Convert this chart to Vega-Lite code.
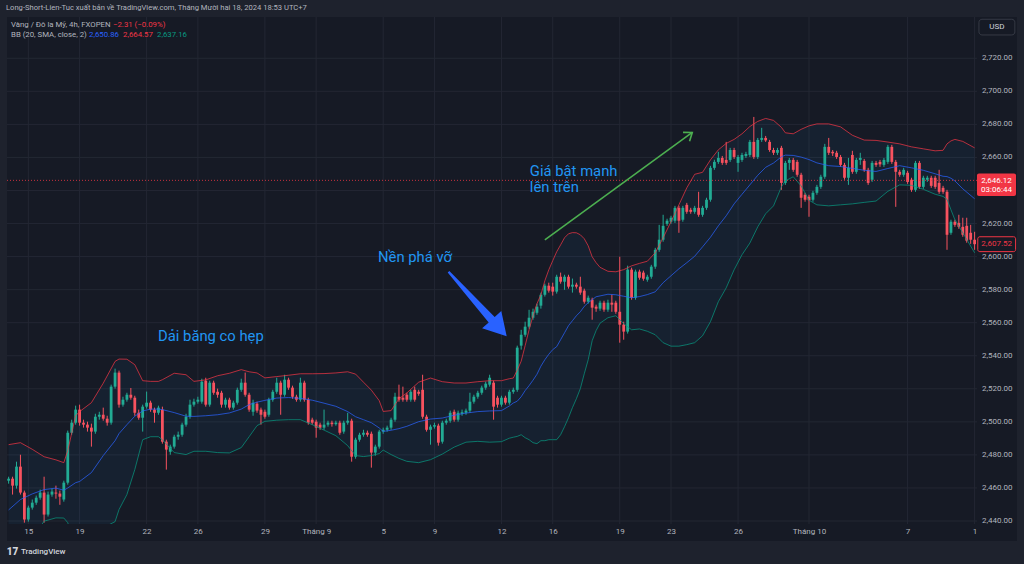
{
"$schema":"https://vega.github.io/schema/vega-lite/v6.json",
"width":1010,"height":507,
"autosize":{"type":"none"},
"padding":{"left":7,"top":17,"right":7,"bottom":40},
"background":"#1e222d",
"view":{"fill":"#161a25","stroke":null},
"title":{"text":"Long-Short-Lien-Tuc xuất bản về TradingView.com, Tháng Mười hai 18, 2024 18:53 UTC+7","anchor":"start","frame":"group","offset":5,"fontSize":7.6,"fontWeight":"normal","color":"#b2b5be","font":"Roboto","dx":-1},
"config":{"text":{"font":"Roboto"},"scale":{"continuousPadding":0}},
"datasets":{
"c":[
{"i":0,"o":2464.4,"h":2466.8,"l":2462.6,"c":2465.6},
{"i":1,"o":2465.6,"h":2466.8,"l":2456.0,"c":2461.4},
{"i":2,"o":2461.4,"h":2475.9,"l":2459.6,"c":2472.9},
{"i":3,"o":2472.9,"h":2480.1,"l":2456.0,"c":2457.2},
{"i":4,"o":2457.2,"h":2458.4,"l":2439.0,"c":2440.9},
{"i":5,"o":2440.9,"h":2449.3,"l":2439.6,"c":2448.1},
{"i":6,"o":2448.1,"h":2453.0,"l":2446.9,"c":2451.1},
{"i":7,"o":2451.1,"h":2455.4,"l":2449.8,"c":2454.1},
{"i":8,"o":2454.1,"h":2459.0,"l":2452.9,"c":2457.2},
{"i":9,"o":2457.2,"h":2466.8,"l":2439.0,"c":2443.9},
{"i":10,"o":2443.9,"h":2457.8,"l":2442.7,"c":2456.0},
{"i":11,"o":2456.0,"h":2459.6,"l":2454.7,"c":2457.8},
{"i":12,"o":2457.2,"h":2461.4,"l":2453.5,"c":2456.6},
{"i":13,"o":2456.6,"h":2458.4,"l":2449.8,"c":2454.7},
{"i":14,"o":2453.0,"h":2464.4,"l":2451.7,"c":2463.2},
{"i":15,"o":2463.2,"h":2494.7,"l":2462.0,"c":2493.4},
{"i":16,"o":2493.4,"h":2501.3,"l":2492.2,"c":2499.5},
{"i":17,"o":2499.5,"h":2509.8,"l":2498.3,"c":2507.4},
{"i":18,"o":2507.4,"h":2510.4,"l":2497.7,"c":2499.5},
{"i":19,"o":2499.5,"h":2501.3,"l":2496.5,"c":2498.3},
{"i":20,"o":2498.3,"h":2500.1,"l":2494.1,"c":2496.5},
{"i":21,"o":2496.5,"h":2498.9,"l":2485.0,"c":2494.1},
{"i":22,"o":2494.1,"h":2504.9,"l":2492.8,"c":2503.1},
{"i":23,"o":2503.1,"h":2506.1,"l":2501.3,"c":2504.3},
{"i":24,"o":2504.3,"h":2508.6,"l":2500.7,"c":2501.9},
{"i":25,"o":2501.9,"h":2503.7,"l":2497.7,"c":2499.5},
{"i":26,"o":2499.5,"h":2522.5,"l":2498.3,"c":2521.3},
{"i":27,"o":2521.3,"h":2532.2,"l":2520.1,"c":2529.8},
{"i":28,"o":2529.8,"h":2531.0,"l":2508.6,"c":2510.4},
{"i":29,"o":2510.4,"h":2515.2,"l":2509.2,"c":2513.4},
{"i":30,"o":2513.4,"h":2517.6,"l":2512.2,"c":2516.4},
{"i":31,"o":2516.4,"h":2520.5,"l":2513.4,"c":2514.6},
{"i":32,"o":2514.6,"h":2515.8,"l":2503.7,"c":2505.5},
{"i":33,"o":2505.5,"h":2507.4,"l":2501.3,"c":2502.5},
{"i":34,"o":2502.5,"h":2510.4,"l":2494.1,"c":2509.2},
{"i":35,"o":2509.2,"h":2518.3,"l":2508.0,"c":2511.6},
{"i":36,"o":2511.6,"h":2512.8,"l":2506.1,"c":2507.4},
{"i":37,"o":2507.4,"h":2508.6,"l":2499.5,"c":2505.5},
{"i":38,"o":2505.5,"h":2509.8,"l":2504.3,"c":2508.6},
{"i":39,"o":2507.4,"h":2509.2,"l":2486.8,"c":2488.0},
{"i":40,"o":2488.0,"h":2489.2,"l":2471.1,"c":2483.2},
{"i":41,"o":2481.9,"h":2486.2,"l":2480.1,"c":2485.0},
{"i":42,"o":2485.0,"h":2492.2,"l":2483.8,"c":2491.0},
{"i":43,"o":2491.0,"h":2494.1,"l":2489.2,"c":2492.2},
{"i":44,"o":2492.2,"h":2499.5,"l":2491.0,"c":2498.3},
{"i":45,"o":2498.3,"h":2504.9,"l":2497.1,"c":2503.1},
{"i":46,"o":2503.1,"h":2513.4,"l":2501.9,"c":2510.4},
{"i":47,"o":2510.4,"h":2514.0,"l":2509.2,"c":2512.2},
{"i":48,"o":2512.2,"h":2515.2,"l":2511.0,"c":2513.4},
{"i":49,"o":2512.2,"h":2526.1,"l":2511.0,"c":2524.3},
{"i":50,"o":2524.9,"h":2526.7,"l":2509.2,"c":2510.4},
{"i":51,"o":2510.4,"h":2524.9,"l":2509.2,"c":2523.7},
{"i":52,"o":2523.7,"h":2524.9,"l":2516.4,"c":2517.6},
{"i":53,"o":2518.2,"h":2520.1,"l":2514.6,"c":2516.4},
{"i":54,"o":2517.6,"h":2518.8,"l":2508.6,"c":2510.4},
{"i":55,"o":2510.4,"h":2514.6,"l":2508.6,"c":2513.4},
{"i":56,"o":2513.4,"h":2514.6,"l":2507.4,"c":2508.6},
{"i":57,"o":2508.6,"h":2512.8,"l":2507.4,"c":2511.6},
{"i":58,"o":2511.6,"h":2520.7,"l":2510.4,"c":2519.4},
{"i":59,"o":2519.4,"h":2526.1,"l":2518.2,"c":2523.7},
{"i":60,"o":2523.7,"h":2529.8,"l":2515.2,"c":2516.4},
{"i":61,"o":2516.4,"h":2517.6,"l":2506.1,"c":2507.4},
{"i":62,"o":2506.1,"h":2513.4,"l":2503.7,"c":2511.6},
{"i":63,"o":2511.0,"h":2512.2,"l":2505.5,"c":2506.8},
{"i":64,"o":2507.4,"h":2508.6,"l":2498.3,"c":2504.3},
{"i":65,"o":2506.1,"h":2507.4,"l":2501.9,"c":2503.1},
{"i":66,"o":2504.3,"h":2514.6,"l":2503.1,"c":2513.4},
{"i":67,"o":2513.4,"h":2519.4,"l":2512.2,"c":2518.2},
{"i":68,"o":2518.2,"h":2526.7,"l":2517.0,"c":2523.7},
{"i":69,"o":2523.7,"h":2524.9,"l":2504.3,"c":2516.4},
{"i":70,"o":2516.4,"h":2528.5,"l":2515.2,"c":2525.5},
{"i":71,"o":2525.5,"h":2526.7,"l":2519.4,"c":2520.7},
{"i":72,"o":2520.7,"h":2521.9,"l":2514.0,"c":2515.2},
{"i":73,"o":2515.2,"h":2516.4,"l":2512.2,"c":2513.4},
{"i":74,"o":2513.4,"h":2526.7,"l":2512.2,"c":2523.7},
{"i":75,"o":2523.7,"h":2524.9,"l":2512.2,"c":2513.4},
{"i":76,"o":2513.4,"h":2514.6,"l":2498.3,"c":2499.5},
{"i":77,"o":2501.3,"h":2502.5,"l":2498.3,"c":2499.5},
{"i":78,"o":2500.1,"h":2501.3,"l":2490.4,"c":2496.5},
{"i":79,"o":2498.3,"h":2499.5,"l":2495.2,"c":2496.5},
{"i":80,"o":2496.5,"h":2507.4,"l":2495.2,"c":2498.3},
{"i":81,"o":2498.3,"h":2500.7,"l":2497.1,"c":2499.5},
{"i":82,"o":2499.5,"h":2500.7,"l":2497.1,"c":2498.6},
{"i":83,"o":2498.6,"h":2500.7,"l":2497.7,"c":2499.5},
{"i":84,"o":2499.5,"h":2500.7,"l":2492.2,"c":2493.4},
{"i":85,"o":2494.1,"h":2500.7,"l":2492.8,"c":2499.5},
{"i":86,"o":2499.5,"h":2505.5,"l":2498.3,"c":2500.7},
{"i":87,"o":2500.7,"h":2501.9,"l":2475.9,"c":2478.9},
{"i":88,"o":2478.9,"h":2490.4,"l":2477.7,"c":2489.2},
{"i":89,"o":2489.2,"h":2493.4,"l":2488.0,"c":2492.2},
{"i":90,"o":2492.2,"h":2495.2,"l":2491.0,"c":2493.4},
{"i":91,"o":2493.4,"h":2494.7,"l":2491.0,"c":2492.2},
{"i":92,"o":2492.8,"h":2494.1,"l":2472.3,"c":2481.4},
{"i":93,"o":2481.4,"h":2486.2,"l":2479.5,"c":2485.0},
{"i":94,"o":2485.0,"h":2495.2,"l":2483.8,"c":2494.1},
{"i":95,"o":2494.1,"h":2496.5,"l":2492.8,"c":2495.2},
{"i":96,"o":2495.2,"h":2497.7,"l":2494.1,"c":2496.5},
{"i":97,"o":2496.5,"h":2502.5,"l":2495.2,"c":2501.3},
{"i":98,"o":2501.3,"h":2517.6,"l":2500.1,"c":2515.2},
{"i":99,"o":2515.2,"h":2522.5,"l":2512.2,"c":2513.4},
{"i":100,"o":2514.6,"h":2521.3,"l":2512.2,"c":2513.4},
{"i":101,"o":2516.4,"h":2517.6,"l":2512.2,"c":2513.4},
{"i":102,"o":2513.4,"h":2519.4,"l":2512.2,"c":2518.2},
{"i":103,"o":2519.4,"h":2521.3,"l":2512.2,"c":2513.4},
{"i":104,"o":2518.2,"h":2519.4,"l":2515.8,"c":2517.0},
{"i":105,"o":2519.4,"h":2528.5,"l":2501.9,"c":2503.1},
{"i":106,"o":2503.1,"h":2504.3,"l":2494.1,"c":2495.2},
{"i":107,"o":2495.2,"h":2498.3,"l":2486.2,"c":2497.1},
{"i":108,"o":2497.1,"h":2499.5,"l":2495.9,"c":2498.0},
{"i":109,"o":2497.7,"h":2498.9,"l":2485.6,"c":2487.4},
{"i":110,"o":2488.0,"h":2500.7,"l":2486.8,"c":2499.5},
{"i":111,"o":2499.5,"h":2501.9,"l":2498.3,"c":2500.7},
{"i":112,"o":2500.7,"h":2506.8,"l":2499.5,"c":2505.5},
{"i":113,"o":2506.1,"h":2507.4,"l":2500.1,"c":2501.3},
{"i":114,"o":2501.3,"h":2506.8,"l":2500.1,"c":2505.5},
{"i":115,"o":2504.9,"h":2507.4,"l":2503.7,"c":2505.8},
{"i":116,"o":2505.5,"h":2508.0,"l":2504.3,"c":2506.8},
{"i":117,"o":2506.8,"h":2517.6,"l":2505.5,"c":2512.2},
{"i":118,"o":2512.2,"h":2516.4,"l":2511.0,"c":2515.2},
{"i":119,"o":2515.2,"h":2518.8,"l":2514.0,"c":2517.6},
{"i":120,"o":2517.6,"h":2521.9,"l":2516.4,"c":2520.7},
{"i":121,"o":2520.7,"h":2524.3,"l":2519.4,"c":2523.1},
{"i":122,"o":2522.5,"h":2528.5,"l":2521.3,"c":2526.7},
{"i":123,"o":2523.7,"h":2524.9,"l":2501.3,"c":2509.2},
{"i":124,"o":2514.6,"h":2515.8,"l":2508.6,"c":2510.4},
{"i":125,"o":2510.4,"h":2515.8,"l":2509.2,"c":2514.6},
{"i":126,"o":2514.6,"h":2515.8,"l":2510.4,"c":2511.6},
{"i":127,"o":2511.6,"h":2519.4,"l":2510.4,"c":2518.2},
{"i":128,"o":2518.2,"h":2520.7,"l":2517.0,"c":2519.4},
{"i":129,"o":2519.4,"h":2546.1,"l":2518.2,"c":2544.9},
{"i":130,"o":2546.1,"h":2555.7,"l":2543.7,"c":2552.7},
{"i":131,"o":2552.7,"h":2560.6,"l":2551.5,"c":2557.6},
{"i":132,"o":2557.6,"h":2567.8,"l":2556.4,"c":2563.0},
{"i":133,"o":2563.0,"h":2568.5,"l":2561.8,"c":2566.6},
{"i":134,"o":2566.0,"h":2571.5,"l":2564.8,"c":2569.7},
{"i":135,"o":2570.3,"h":2578.2,"l":2568.5,"c":2576.9},
{"i":136,"o":2576.9,"h":2583.6,"l":2575.8,"c":2582.4},
{"i":137,"o":2582.4,"h":2584.2,"l":2578.2,"c":2579.4},
{"i":138,"o":2581.8,"h":2584.2,"l":2576.4,"c":2578.8},
{"i":139,"o":2578.8,"h":2589.0,"l":2577.6,"c":2587.8},
{"i":140,"o":2587.8,"h":2590.3,"l":2583.6,"c":2584.8},
{"i":141,"o":2584.8,"h":2589.0,"l":2579.9,"c":2587.8},
{"i":142,"o":2587.8,"h":2589.0,"l":2580.6,"c":2581.8},
{"i":143,"o":2581.8,"h":2586.7,"l":2578.2,"c":2583.0},
{"i":144,"o":2583.0,"h":2584.2,"l":2580.6,"c":2581.8},
{"i":145,"o":2581.8,"h":2587.8,"l":2576.9,"c":2578.2},
{"i":146,"o":2579.4,"h":2580.6,"l":2571.5,"c":2572.7},
{"i":147,"o":2572.7,"h":2576.4,"l":2571.5,"c":2575.1},
{"i":148,"o":2573.9,"h":2575.1,"l":2561.8,"c":2569.1},
{"i":149,"o":2569.7,"h":2570.9,"l":2566.6,"c":2568.5},
{"i":150,"o":2568.5,"h":2573.3,"l":2567.2,"c":2572.1},
{"i":151,"o":2572.1,"h":2573.3,"l":2566.6,"c":2567.9},
{"i":152,"o":2567.9,"h":2573.9,"l":2566.6,"c":2572.1},
{"i":153,"o":2572.1,"h":2576.9,"l":2566.6,"c":2570.9},
{"i":154,"o":2572.1,"h":2573.3,"l":2565.4,"c":2566.6},
{"i":155,"o":2566.6,"h":2599.9,"l":2547.9,"c":2558.8},
{"i":156,"o":2558.8,"h":2560.6,"l":2549.7,"c":2554.6},
{"i":157,"o":2554.6,"h":2594.5,"l":2553.4,"c":2592.1},
{"i":158,"o":2592.1,"h":2593.3,"l":2573.9,"c":2575.1},
{"i":159,"o":2575.1,"h":2592.1,"l":2573.9,"c":2590.9},
{"i":160,"o":2590.9,"h":2592.1,"l":2586.0,"c":2587.2},
{"i":161,"o":2590.3,"h":2591.5,"l":2585.4,"c":2586.6},
{"i":162,"o":2586.0,"h":2589.0,"l":2584.8,"c":2587.8},
{"i":163,"o":2587.8,"h":2595.0,"l":2586.6,"c":2593.9},
{"i":164,"o":2593.9,"h":2605.3,"l":2592.6,"c":2604.1},
{"i":165,"o":2604.1,"h":2619.2,"l":2602.9,"c":2610.2},
{"i":166,"o":2610.2,"h":2625.3,"l":2609.0,"c":2618.6},
{"i":167,"o":2619.8,"h":2622.9,"l":2618.6,"c":2621.7},
{"i":168,"o":2621.1,"h":2624.7,"l":2619.8,"c":2623.5},
{"i":169,"o":2621.7,"h":2630.7,"l":2620.4,"c":2629.5},
{"i":170,"o":2629.5,"h":2630.7,"l":2614.4,"c":2621.7},
{"i":171,"o":2622.3,"h":2630.7,"l":2621.1,"c":2629.5},
{"i":172,"o":2631.3,"h":2632.5,"l":2625.9,"c":2627.1},
{"i":173,"o":2628.3,"h":2629.5,"l":2625.9,"c":2627.1},
{"i":174,"o":2627.1,"h":2630.7,"l":2625.9,"c":2629.5},
{"i":175,"o":2629.5,"h":2639.2,"l":2624.1,"c":2625.3},
{"i":176,"o":2625.3,"h":2630.7,"l":2624.1,"c":2629.5},
{"i":177,"o":2629.5,"h":2635.6,"l":2628.3,"c":2634.4},
{"i":178,"o":2634.4,"h":2654.9,"l":2633.2,"c":2653.7},
{"i":179,"o":2653.7,"h":2658.6,"l":2652.5,"c":2657.3},
{"i":180,"o":2657.3,"h":2663.4,"l":2656.1,"c":2659.7},
{"i":181,"o":2659.7,"h":2660.9,"l":2655.5,"c":2656.7},
{"i":182,"o":2658.5,"h":2669.4,"l":2655.5,"c":2656.7},
{"i":183,"o":2658.5,"h":2665.8,"l":2657.3,"c":2664.5},
{"i":184,"o":2664.5,"h":2665.8,"l":2659.1,"c":2660.3},
{"i":185,"o":2656.7,"h":2661.5,"l":2651.3,"c":2660.3},
{"i":186,"o":2658.5,"h":2662.8,"l":2657.3,"c":2661.5},
{"i":187,"o":2660.9,"h":2663.4,"l":2659.7,"c":2662.1},
{"i":188,"o":2661.5,"h":2670.6,"l":2660.3,"c":2669.4},
{"i":189,"o":2669.4,"h":2684.5,"l":2659.1,"c":2660.3},
{"i":190,"o":2660.3,"h":2671.8,"l":2659.1,"c":2670.6},
{"i":191,"o":2670.6,"h":2677.9,"l":2669.4,"c":2671.8},
{"i":192,"o":2671.8,"h":2673.0,"l":2669.4,"c":2670.3},
{"i":193,"o":2669.4,"h":2670.6,"l":2663.4,"c":2664.5},
{"i":194,"o":2664.5,"h":2665.8,"l":2661.5,"c":2662.8},
{"i":195,"o":2662.8,"h":2665.8,"l":2661.5,"c":2664.5},
{"i":196,"o":2665.8,"h":2667.0,"l":2640.4,"c":2644.6},
{"i":197,"o":2644.6,"h":2657.9,"l":2643.4,"c":2656.7},
{"i":198,"o":2656.7,"h":2659.7,"l":2652.5,"c":2658.5},
{"i":199,"o":2658.5,"h":2659.7,"l":2651.3,"c":2652.5},
{"i":200,"o":2657.3,"h":2658.5,"l":2648.3,"c":2649.5},
{"i":201,"o":2649.5,"h":2650.7,"l":2629.5,"c":2635.6},
{"i":202,"o":2637.4,"h":2638.6,"l":2633.2,"c":2634.4},
{"i":203,"o":2636.2,"h":2637.4,"l":2624.1,"c":2634.1},
{"i":204,"o":2634.4,"h":2639.8,"l":2633.2,"c":2638.6},
{"i":205,"o":2638.6,"h":2643.4,"l":2637.4,"c":2642.2},
{"i":206,"o":2642.2,"h":2649.5,"l":2641.0,"c":2648.3},
{"i":207,"o":2648.3,"h":2668.2,"l":2647.1,"c":2666.4},
{"i":208,"o":2666.4,"h":2671.8,"l":2661.5,"c":2662.8},
{"i":209,"o":2663.4,"h":2664.5,"l":2660.9,"c":2662.5},
{"i":210,"o":2662.8,"h":2664.0,"l":2659.1,"c":2660.3},
{"i":211,"o":2660.3,"h":2661.5,"l":2654.3,"c":2655.5},
{"i":212,"o":2655.5,"h":2656.7,"l":2646.5,"c":2647.7},
{"i":213,"o":2647.7,"h":2659.7,"l":2643.4,"c":2653.7},
{"i":214,"o":2661.5,"h":2664.0,"l":2650.1,"c":2651.3},
{"i":215,"o":2651.3,"h":2659.7,"l":2650.1,"c":2658.5},
{"i":216,"o":2658.5,"h":2662.8,"l":2655.5,"c":2659.7},
{"i":217,"o":2657.9,"h":2659.1,"l":2651.3,"c":2652.5},
{"i":218,"o":2652.5,"h":2653.7,"l":2643.4,"c":2644.6},
{"i":219,"o":2646.5,"h":2657.9,"l":2645.2,"c":2656.7},
{"i":220,"o":2656.7,"h":2657.9,"l":2654.3,"c":2655.5},
{"i":221,"o":2657.3,"h":2658.5,"l":2654.3,"c":2655.8},
{"i":222,"o":2655.5,"h":2659.7,"l":2654.3,"c":2658.5},
{"i":223,"o":2657.3,"h":2667.6,"l":2656.1,"c":2666.4},
{"i":224,"o":2666.4,"h":2667.6,"l":2656.1,"c":2657.3},
{"i":225,"o":2657.3,"h":2658.5,"l":2630.1,"c":2651.3},
{"i":226,"o":2651.3,"h":2652.5,"l":2648.3,"c":2649.5},
{"i":227,"o":2649.5,"h":2653.7,"l":2648.3,"c":2652.5},
{"i":228,"o":2650.7,"h":2651.9,"l":2644.0,"c":2645.2},
{"i":229,"o":2646.5,"h":2647.7,"l":2639.2,"c":2640.4},
{"i":230,"o":2640.4,"h":2657.9,"l":2639.2,"c":2656.7},
{"i":231,"o":2656.7,"h":2657.9,"l":2641.0,"c":2642.2},
{"i":232,"o":2642.2,"h":2648.9,"l":2641.0,"c":2647.7},
{"i":233,"o":2646.5,"h":2648.9,"l":2645.2,"c":2647.7},
{"i":234,"o":2647.7,"h":2648.9,"l":2641.6,"c":2642.8},
{"i":235,"o":2647.7,"h":2648.9,"l":2641.0,"c":2642.2},
{"i":236,"o":2644.6,"h":2652.5,"l":2638.0,"c":2639.2},
{"i":237,"o":2641.6,"h":2642.8,"l":2638.0,"c":2639.2},
{"i":238,"o":2639.2,"h":2640.4,"l":2604.1,"c":2613.2},
{"i":239,"o":2614.4,"h":2622.3,"l":2613.2,"c":2621.1},
{"i":240,"o":2621.1,"h":2622.3,"l":2618.0,"c":2619.2},
{"i":241,"o":2620.4,"h":2625.3,"l":2616.8,"c":2618.0},
{"i":242,"o":2618.0,"h":2623.5,"l":2612.0,"c":2613.2},
{"i":243,"o":2618.6,"h":2623.5,"l":2608.4,"c":2609.6},
{"i":244,"o":2614.4,"h":2619.2,"l":2607.7,"c":2610.2},
{"i":245,"o":2610.2,"h":2615.0,"l":2604.1,"c":2607.5}
],
"bb":[
{"i":0,"u":2486.2,"m":2446.7,"lo":2407.2},
{"i":3,"u":2487.4,"m":2453.0,"lo":2418.5},
{"i":6,"u":2483.4,"m":2456.4,"lo":2429.4},
{"i":9,"u":2478.9,"m":2459.0,"lo":2439.9},
{"i":12,"u":2477.0,"m":2459.9,"lo":2441.9},
{"i":14,"u":2475.3,"m":2458.6,"lo":2441.8},
{"i":15,"u":2482.6,"m":2460.0,"lo":2439.0},
{"i":17,"u":2503.7,"m":2463.2,"lo":2422.7},
{"i":18,"u":2506.2,"m":2463.9,"lo":2421.5},
{"i":21,"u":2511.6,"m":2469.3,"lo":2426.9},
{"i":24,"u":2523.4,"m":2479.6,"lo":2436.0},
{"i":27,"u":2536.6,"m":2488.6,"lo":2439.6},
{"i":28,"u":2538.0,"m":2492.9,"lo":2446.9},
{"i":30,"u":2537.9,"m":2498.3,"lo":2456.0},
{"i":32,"u":2534.6,"m":2503.4,"lo":2471.1},
{"i":34,"u":2524.9,"m":2506.6,"lo":2489.2},
{"i":36,"u":2524.5,"m":2507.7,"lo":2491.0},
{"i":38,"u":2524.5,"m":2507.7,"lo":2491.0},
{"i":39,"u":2525.5,"m":2507.4,"lo":2489.2},
{"i":42,"u":2529.4,"m":2505.6,"lo":2481.4},
{"i":45,"u":2528.5,"m":2503.4,"lo":2480.2},
{"i":47,"u":2524.5,"m":2503.3,"lo":2482.2},
{"i":50,"u":2525.4,"m":2503.7,"lo":2482.2},
{"i":53,"u":2527.9,"m":2504.3,"lo":2481.4},
{"i":56,"u":2529.4,"m":2505.4,"lo":2481.2},
{"i":59,"u":2531.6,"m":2507.7,"lo":2484.4},
{"i":61,"u":2530.3,"m":2510.4,"lo":2491.0},
{"i":63,"u":2529.6,"m":2511.9,"lo":2497.7},
{"i":65,"u":2526.6,"m":2513.0,"lo":2500.3},
{"i":68,"u":2527.4,"m":2514.4,"lo":2501.0},
{"i":71,"u":2528.2,"m":2514.7,"lo":2501.3},
{"i":74,"u":2529.1,"m":2514.2,"lo":2501.3},
{"i":77,"u":2529.1,"m":2513.1,"lo":2498.3},
{"i":80,"u":2529.2,"m":2511.3,"lo":2495.0},
{"i":83,"u":2529.6,"m":2509.4,"lo":2491.6},
{"i":86,"u":2530.3,"m":2506.2,"lo":2485.6},
{"i":88,"u":2528.9,"m":2503.1,"lo":2479.6},
{"i":90,"u":2524.0,"m":2501.3,"lo":2479.0},
{"i":92,"u":2519.2,"m":2499.5,"lo":2479.6},
{"i":94,"u":2512.8,"m":2496.3,"lo":2480.8},
{"i":95,"u":2506.3,"m":2494.2,"lo":2482.9},
{"i":97,"u":2506.8,"m":2494.9,"lo":2480.2},
{"i":99,"u":2514.0,"m":2495.9,"lo":2477.9},
{"i":101,"u":2517.5,"m":2497.3,"lo":2476.1},
{"i":104,"u":2524.0,"m":2500.1,"lo":2475.3},
{"i":107,"u":2526.5,"m":2501.7,"lo":2477.1},
{"i":110,"u":2524.3,"m":2502.3,"lo":2480.5},
{"i":113,"u":2523.5,"m":2504.0,"lo":2484.7},
{"i":116,"u":2523.5,"m":2505.3,"lo":2487.7},
{"i":119,"u":2524.3,"m":2506.2,"lo":2488.2},
{"i":122,"u":2524.9,"m":2506.6,"lo":2487.7},
{"i":125,"u":2524.9,"m":2506.8,"lo":2488.0},
{"i":127,"u":2526.1,"m":2509.6,"lo":2490.1},
{"i":128,"u":2526.5,"m":2511.4,"lo":2490.7},
{"i":129,"u":2531.3,"m":2512.5,"lo":2491.2},
{"i":130,"u":2536.7,"m":2515.2,"lo":2492.2},
{"i":131,"u":2546.1,"m":2518.9,"lo":2490.4},
{"i":132,"u":2555.7,"m":2521.9,"lo":2489.2},
{"i":133,"u":2564.2,"m":2525.2,"lo":2487.4},
{"i":134,"u":2571.5,"m":2528.8,"lo":2486.8},
{"i":135,"u":2576.9,"m":2533.7,"lo":2488.6},
{"i":136,"u":2585.4,"m":2537.6,"lo":2488.6},
{"i":137,"u":2592.0,"m":2540.9,"lo":2489.2},
{"i":138,"u":2597.5,"m":2543.7,"lo":2489.2},
{"i":139,"u":2602.9,"m":2545.5,"lo":2489.2},
{"i":140,"u":2607.1,"m":2549.7,"lo":2492.2},
{"i":141,"u":2611.4,"m":2553.9,"lo":2497.1},
{"i":142,"u":2613.8,"m":2558.2,"lo":2502.5},
{"i":143,"u":2614.5,"m":2561.2,"lo":2508.6},
{"i":144,"u":2614.4,"m":2564.2,"lo":2514.0},
{"i":145,"u":2613.2,"m":2566.6,"lo":2520.1},
{"i":146,"u":2610.8,"m":2569.9,"lo":2529.1},
{"i":147,"u":2606.5,"m":2572.1,"lo":2537.6},
{"i":148,"u":2599.9,"m":2573.9,"lo":2549.1},
{"i":149,"u":2596.3,"m":2575.7,"lo":2555.2},
{"i":150,"u":2593.5,"m":2576.2,"lo":2559.7},
{"i":152,"u":2591.1,"m":2577.2,"lo":2563.0},
{"i":154,"u":2590.8,"m":2576.9,"lo":2564.2},
{"i":156,"u":2592.1,"m":2576.0,"lo":2559.4},
{"i":158,"u":2594.4,"m":2575.1,"lo":2555.7},
{"i":160,"u":2595.9,"m":2575.8,"lo":2556.2},
{"i":162,"u":2597.2,"m":2577.0,"lo":2554.8},
{"i":164,"u":2602.3,"m":2578.7,"lo":2552.7},
{"i":166,"u":2611.4,"m":2584.2,"lo":2547.9},
{"i":168,"u":2621.1,"m":2588.4,"lo":2545.8},
{"i":170,"u":2631.3,"m":2592.6,"lo":2545.8},
{"i":172,"u":2641.6,"m":2596.3,"lo":2546.7},
{"i":174,"u":2649.8,"m":2600.2,"lo":2547.9},
{"i":176,"u":2651.0,"m":2605.9,"lo":2552.1},
{"i":178,"u":2658.5,"m":2611.7,"lo":2560.6},
{"i":180,"u":2664.6,"m":2618.6,"lo":2572.7},
{"i":182,"u":2668.5,"m":2624.7,"lo":2581.1},
{"i":184,"u":2670.9,"m":2631.9,"lo":2592.0},
{"i":186,"u":2674.3,"m":2637.7,"lo":2601.1},
{"i":188,"u":2678.7,"m":2643.4,"lo":2608.2},
{"i":190,"u":2681.8,"m":2649.2,"lo":2618.0},
{"i":192,"u":2683.6,"m":2654.0,"lo":2625.9},
{"i":194,"u":2682.4,"m":2656.6,"lo":2630.7},
{"i":196,"u":2678.2,"m":2660.4,"lo":2642.2},
{"i":197,"u":2674.9,"m":2661.4,"lo":2645.8},
{"i":199,"u":2674.3,"m":2661.2,"lo":2648.3},
{"i":201,"u":2677.0,"m":2660.2,"lo":2642.8},
{"i":203,"u":2679.1,"m":2658.7,"lo":2634.1},
{"i":205,"u":2680.3,"m":2656.7,"lo":2631.3},
{"i":208,"u":2680.3,"m":2655.0,"lo":2630.7},
{"i":211,"u":2678.5,"m":2654.5,"lo":2631.3},
{"i":214,"u":2673.4,"m":2653.4,"lo":2631.9},
{"i":217,"u":2670.5,"m":2652.2,"lo":2632.8},
{"i":220,"u":2670.3,"m":2651.5,"lo":2633.6},
{"i":223,"u":2669.3,"m":2653.3,"lo":2639.5},
{"i":226,"u":2668.2,"m":2655.0,"lo":2643.4},
{"i":229,"u":2666.4,"m":2653.7,"lo":2643.1},
{"i":232,"u":2665.2,"m":2652.2,"lo":2640.7},
{"i":235,"u":2664.0,"m":2650.1,"lo":2637.7},
{"i":237,"u":2664.3,"m":2648.6,"lo":2636.4},
{"i":238,"u":2668.2,"m":2648.4,"lo":2634.7},
{"i":239,"u":2670.0,"m":2647.4,"lo":2628.3},
{"i":240,"u":2670.9,"m":2645.8,"lo":2622.3},
{"i":242,"u":2669.7,"m":2641.0,"lo":2614.4},
{"i":245,"u":2665.8,"m":2635.0,"lo":2602.3}
],
"xt":[{"i":5},{"i":18},{"i":35},{"i":48},{"i":65},{"i":78},{"i":95},{"i":108},{"i":125},{"i":138},{"i":155},{"i":168},{"i":185},{"i":203},{"i":228},{"i":245}],
"yt":[{"p":2440},{"p":2460},{"p":2480},{"p":2500},{"p":2520},{"p":2540},{"p":2560},{"p":2580},{"p":2600},{"p":2620},{"p":2640},{"p":2660},{"p":2680},{"p":2700},{"p":2720}],
"yl":[{"p":2440},{"p":2460},{"p":2480},{"p":2500},{"p":2520},{"p":2540},{"p":2560},{"p":2580},{"p":2600},{"p":2620},{"p":2660},{"p":2680},{"p":2700},{"p":2720}]
},
"layer":[
{"data":{"values":[{}]},"mark":{"type":"rect","fill":"#161a25","clip":false},
 "encoding":{
  "x":{"datum":-0.41,"type":"quantitative","scale":{"domain":[-0.41,255.75],"nice":false,"zero":false,"padding":0},
   "axis":{"orient":"bottom","zindex":1,"values":[5,18,35,48,65,78,95,108,125,138,155,168,185,203,228,245],
    "labelExpr":"['15','19','22','26','29','Tháng 9','5','9','12','16','19','23','26','Tháng 10','7','1'][indexof([5,18,35,48,65,78,95,108,125,138,155,168,185,203,228,245], datum.value)]",
    "domain":false,"ticks":false,"tickSize":0,"grid":false,"labelPadding":3,"labelFont":"Roboto","labelFontSize":8,"labelColor":"#b2b5be","labelOverlap":false,"labelFlush":false,"labelBound":false,"title":null}},
  "x2":{"datum":255.75},
  "y":{"datum":2438.19,"type":"quantitative","scale":{"domain":[2438.19,2744.97],"nice":false,"zero":false,"padding":0},
   "axis":{"orient":"right","offset":-41,"labels":false,"domain":false,"ticks":false,"tickSize":0,"grid":false,"title":null}},
  "y2":{"datum":2427.9}}},
{"data":{"name":"xt"},"mark":{"type":"rule","color":"#232733","strokeWidth":1},
 "encoding":{"x":{"field":"i","type":"quantitative","title":null},
  "y":{"datum":2438.19,"type":"quantitative"},"y2":{"datum":2744.97}}},
{"data":{"name":"yt"},"mark":{"type":"rule","color":"#232733","strokeWidth":1},
 "encoding":{"y":{"field":"p","type":"quantitative","title":null},
  "x":{"datum":-0.41,"type":"quantitative"},"x2":{"datum":245.6}}},
{"data":{"name":"yl"},"mark":{"type":"text","align":"left","baseline":"middle","fontSize":8,"color":"#b2b5be","font":"Roboto"},
 "encoding":{"y":{"field":"p","type":"quantitative","title":null},
  "x":{"datum":246.86,"type":"quantitative"},"text":{"field":"p","type":"quantitative","format":",.2f"}}},
{"data":{"name":"bb"},"mark":{"type":"area","fill":"#2196f3","opacity":0.06,"clip":true},
 "encoding":{"x":{"field":"i","type":"quantitative","title":null},
  "y":{"field":"u","type":"quantitative","title":null},"y2":{"field":"lo"}}},
{"data":{"name":"c"},"mark":{"type":"rule","strokeWidth":1},
 "encoding":{"x":{"field":"i","type":"quantitative","title":null},
  "y":{"field":"l","type":"quantitative","title":null},"y2":{"field":"h"},
  "color":{"condition":{"test":"datum.c >= datum.o","value":"#22ab94"},"value":"#f7525f"}}},
{"data":{"name":"c"},"mark":{"type":"bar","width":2.8},
 "encoding":{"x":{"field":"i","type":"quantitative","title":null},
  "y":{"field":"o","type":"quantitative","title":null},"y2":{"field":"c"},
  "color":{"condition":{"test":"datum.c >= datum.o","value":"#22ab94"},"value":"#f7525f"}}},
{"data":{"name":"bb"},"mark":{"type":"line","color":"#f23645","strokeWidth":1,"opacity":0.72,"clip":true},
 "encoding":{"x":{"field":"i","type":"quantitative","title":null},
  "y":{"field":"u","type":"quantitative","title":null}}},
{"data":{"name":"bb"},"mark":{"type":"line","color":"#2962ff","strokeWidth":1,"opacity":0.72,"clip":true},
 "encoding":{"x":{"field":"i","type":"quantitative","title":null},
  "y":{"field":"m","type":"quantitative","title":null}}},
{"data":{"name":"bb"},"mark":{"type":"line","color":"#089981","strokeWidth":1,"opacity":0.72,"clip":true},
 "encoding":{"x":{"field":"i","type":"quantitative","title":null},
  "y":{"field":"lo","type":"quantitative","title":null}}},
{"data":{"values":[{}]},"mark":{"type":"rule","color":"#f23645","strokeWidth":1,"strokeDash":[1,2],"opacity":0.8},
 "encoding":{"y":{"datum":2646.12,"type":"quantitative"},
  "x":{"datum":-0.41,"type":"quantitative"},"x2":{"datum":245.6}}},
{"data":{"values":[{"i":37.9,"p":2551.5,"t":"Dải băng co hẹp"},{"i":93.68,"p":2599.3,"t":"Nền phá vỡ"},{"i":132.2,"p":2651.0,"t":"Giá bật mạnh"},{"i":132.2,"p":2641.3,"t":"lên trên"}]},
 "mark":{"type":"text","align":"left","baseline":"middle","fontSize":14.8,"color":"#2196f3","font":"Roboto"},
 "encoding":{"x":{"field":"i","type":"quantitative","title":null},
  "y":{"field":"p","type":"quantitative","title":null},"text":{"field":"t"}}},
{"data":{"values":[{"i":122.52,"p":2561.8}]},
 "mark":{"type":"point","shape":"M-2.88,-0.05L0,-0.18L0,-0.576L1,0L0,0.576L0,0.18L-2.88,0.05Z","size":2007,"angle":48,"filled":true,"fill":"#2962ff","strokeWidth":0,"opacity":1},
 "encoding":{"x":{"field":"i","type":"quantitative","title":null},
  "y":{"field":"p","type":"quantitative","title":null}}},
{"data":{"values":[{"i":136.0,"p":2610.1},{"i":173.39,"p":2675.1}]},
 "mark":{"type":"line","color":"#4caf50","strokeWidth":1.6},
 "encoding":{"x":{"field":"i","type":"quantitative","title":null},
  "y":{"field":"p","type":"quantitative","title":null}}},
{"data":{"values":[{"i":173.39,"p":2675.1}]},
 "mark":{"type":"point","shape":"M-1,-0.75L0,0L-1,0.75","size":219,"angle":-36,"filled":false,"stroke":"#4caf50","strokeWidth":1.6,"opacity":1},
 "encoding":{"x":{"field":"i","type":"quantitative","title":null},
  "y":{"field":"p","type":"quantitative","title":null}}},
{"data":{"values":[{"i":0.61,"p":2740.1,"t":"Vàng / Đô la Mỹ, 4h, FXOPEN"},{"i":0.61,"p":2734.1,"t":"BB (20, SMA, close, 2)"}]},
 "mark":{"type":"text","align":"left","baseline":"middle","fontSize":7.8,"color":"#b2b5be","font":"Roboto"},
 "encoding":{"x":{"field":"i","type":"quantitative","title":null},
  "y":{"field":"p","type":"quantitative","title":null},"text":{"field":"t"}}},
{"data":{"values":[{"i":26.48,"p":2740.1,"t":"−2.31 (−0.09%)"},{"i":29.01,"p":2734.1,"t":"2,664.57"}]},
 "mark":{"type":"text","align":"left","baseline":"middle","fontSize":7.8,"color":"#f23645","font":"Roboto"},
 "encoding":{"x":{"field":"i","type":"quantitative","title":null},
  "y":{"field":"p","type":"quantitative","title":null},"text":{"field":"t"}}},
{"data":{"values":[{"i":20.39,"p":2734.1,"t":"2,650.86"}]},
 "mark":{"type":"text","align":"left","baseline":"middle","fontSize":7.8,"color":"#2962ff","font":"Roboto"},
 "encoding":{"x":{"field":"i","type":"quantitative","title":null},
  "y":{"field":"p","type":"quantitative","title":null},"text":{"field":"t"}}},
{"data":{"values":[{"i":37.64,"p":2734.1,"t":"2,637.16"}]},
 "mark":{"type":"text","align":"left","baseline":"middle","fontSize":7.8,"color":"#089981","font":"Roboto"},
 "encoding":{"x":{"field":"i","type":"quantitative","title":null},
  "y":{"field":"p","type":"quantitative","title":null},"text":{"field":"t"}}},
{"data":{"values":[{}]},"mark":{"type":"rect","fill":"#161a25","stroke":"#363a45","strokeWidth":1,"cornerRadius":3},
 "encoding":{"x":{"datum":246.1,"type":"quantitative"},"x2":{"datum":255.2},
  "y":{"datum":2743.6,"type":"quantitative"},"y2":{"datum":2734.1}}},
{"data":{"values":[{"i":250.65,"p":2738.9,"t":"USD"}]},
 "mark":{"type":"text","align":"center","baseline":"middle","fontSize":8,"color":"#d1d4dc","font":"Roboto"},
 "encoding":{"x":{"field":"i","type":"quantitative","title":null},
  "y":{"field":"p","type":"quantitative","title":null},"text":{"field":"t"}}},
{"data":{"values":[{}]},"mark":{"type":"rect","fill":"#f23645","cornerRadius":2},
 "encoding":{"x":{"datum":245.6,"type":"quantitative"},"x2":{"datum":255.5},
  "y":{"datum":2650.3,"type":"quantitative"},"y2":{"datum":2636.6}}},
{"data":{"values":[{"i":250.55,"p":2646.0,"t":"2,646.12"},{"i":250.55,"p":2640.4,"t":"03:06:44"}]},
 "mark":{"type":"text","align":"center","baseline":"middle","fontSize":8,"color":"#ffffff","font":"Roboto"},
 "encoding":{"x":{"field":"i","type":"quantitative","title":null},
  "y":{"field":"p","type":"quantitative","title":null},"text":{"field":"t"}}},
{"data":{"values":[{}]},"mark":{"type":"rect","fill":"#161a25","stroke":"#f23645","strokeWidth":1,"cornerRadius":2},
 "encoding":{"x":{"datum":245.8,"type":"quantitative"},"x2":{"datum":255.4},
  "y":{"datum":2612.0,"type":"quantitative"},"y2":{"datum":2603.0}}},
{"data":{"values":[{"i":250.6,"p":2607.52,"t":"2,607.52"}]},
 "mark":{"type":"text","align":"center","baseline":"middle","fontSize":8,"color":"#f23645","font":"Roboto"},
 "encoding":{"x":{"field":"i","type":"quantitative","title":null},
  "y":{"field":"p","type":"quantitative","title":null},"text":{"field":"t"}}},
{"data":{"values":[{"i":3.14,"p":2421.3,"t":"TradingView"}]},
 "mark":{"type":"text","align":"left","baseline":"middle","fontSize":8,"fontWeight":500,"color":"#d1d4dc","font":"Roboto"},
 "encoding":{"x":{"field":"i","type":"quantitative","title":null},
  "y":{"field":"p","type":"quantitative","title":null},"text":{"field":"t"}}},
{"data":{"values":[{"i":0.99,"p":2421.3,"t":"17"}]},
 "mark":{"type":"text","align":"center","baseline":"middle","fontSize":10,"fontWeight":900,"color":"#d1d4dc","font":"Roboto"},
 "encoding":{"x":{"field":"i","type":"quantitative","title":null},
  "y":{"field":"p","type":"quantitative","title":null},"text":{"field":"t"}}}
]
}
